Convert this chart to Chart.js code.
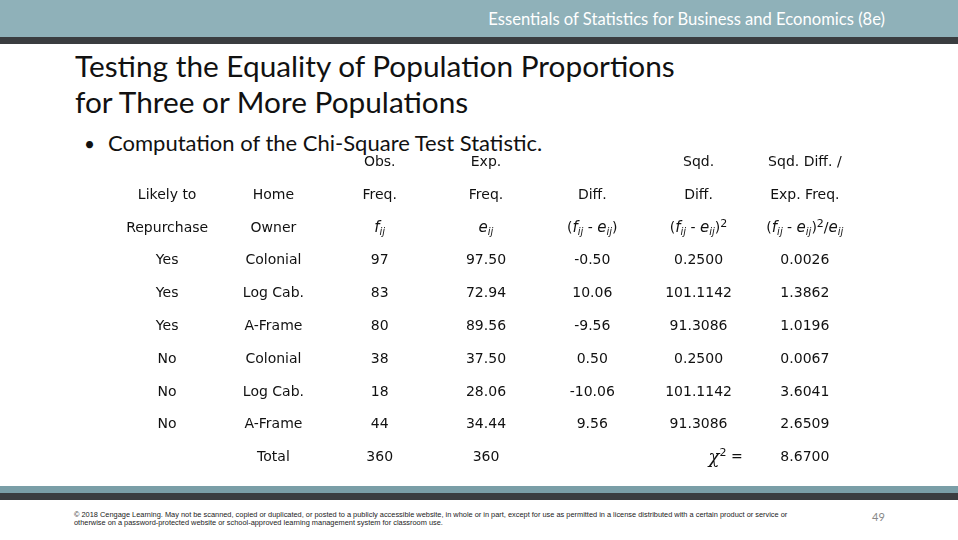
<!DOCTYPE html>
<html>
<head>
<meta charset="utf-8">
<script src="https://cdn.jsdelivr.net/npm/chart.js@4.4.0/dist/chart.umd.min.js"></script>
<style>
    body { margin: 0; width: 958px; height: 540px; background: #fff; overflow: hidden; position: relative; font-family: Lato, sans-serif; }
    .band-top { position: absolute; left: 0; top: 0; width: 958px; height: 37px; background: #8fb1b9; }
    .strip-top { position: absolute; left: 0; top: 37px; width: 958px; height: 7px; background: #3a3d40; }
    .band-bot { position: absolute; left: 0; top: 486px; width: 958px; height: 7px; background: #7a9ea7; }
    .strip-bot { position: absolute; left: 0; top: 493px; width: 958px; height: 7px; background: #3a3d40; }
    .book { position: absolute; right: 73px; top: 9px; color: #fff; font-size: 16.6px; }
    .title { position: absolute; left: 75px; top: 48px; font-size: 29.8px; line-height: 36px; color: #111; }
    .bullet { position: absolute; left: 84px; top: 129px; font-size: 22px; color: #111; }
    .bullet span { display: inline-block; width: 24px; font-size: 19px; }
    .copy { position: absolute; left: 74px; top: 511px; font-size: 7.4px; line-height: 8px; color: #222; font-family: "Liberation Sans Narrow", "Liberation Sans", sans-serif; }
    .page { position: absolute; left: 872px; top: 510px; font-size: 11px; color: #888; }
    #wrap { position: absolute; left: 114px; top: 146px; width: 744px; height: 328px; }
</style>
</head>
<body>
<div class="band-top"></div>
<div class="strip-top"></div>
<div class="book">Essentials of Statistics for Business and Economics (8e)</div>
<div class="title">Testing the Equality of Population Proportions<br>for Three or More Populations</div>
<div class="bullet"><span>•</span>Computation of the Chi-Square Test Statistic.</div>
<div id="wrap"><canvas id="table"></canvas></div>
<div class="band-bot"></div>
<div class="strip-bot"></div>
<div class="copy">© 2018 Cengage Learning. May not be scanned, copied or duplicated, or posted to a publicly accessible website, in whole or in part, except for use as permitted in a license distributed with a certain product or service or<br>otherwise on a password-protected website or school-approved learning management system for classroom use.</div>
<div class="page">49</div>
<script>
// table data
const likely = ['Yes', 'Yes', 'Yes', 'No', 'No', 'No'];
const home = ['Colonial', 'Log Cab.', 'A-Frame', 'Colonial', 'Log Cab.', 'A-Frame'];
const obsFreq = [97, 83, 80, 38, 18, 44];
const expFreq = [97.50, 72.94, 89.56, 37.50, 28.06, 34.44];
const diff = [-0.50, 10.06, -9.56, 0.50, -10.06, 9.56];
const sqdDiff = [0.2500, 101.1142, 91.3086, 0.2500, 101.1142, 91.3086];
const ratio = [0.0026, 1.3862, 1.0196, 0.0067, 3.6041, 2.6509];
const totalObs = 360;
const totalExp = 360;
const chiSquare = 8.6700;

const headRow1 = ['', '', 'Obs.', 'Exp.', '', 'Sqd.', 'Sqd. Diff. /'];
const headRow2 = ['Likely to', 'Home', 'Freq.', 'Freq.', 'Diff.', 'Diff.', 'Exp. Freq.'];

// rich text pieces: [text, style]  style: n = normal, i = italic, s = italic subscript, p = superscript
const fij = [['f', 'i'], ['ij', 's']];
const eij = [['e', 'i'], ['ij', 's']];
const headRow3 = [
    [['Repurchase', 'n']],
    [['Owner', 'n']],
    fij,
    eij,
    [['(', 'n']].concat(fij, [[' - ', 'n']], eij, [[')', 'n']]),
    [['(', 'n']].concat(fij, [[' - ', 'n']], eij, [[')', 'n'], ['2', 'p']]),
    [['(', 'n']].concat(fij, [[' - ', 'n']], eij, [[')', 'n'], ['2', 'p'], ['/', 'n']], eij)
];

const plain = t => [[String(t), 'n']];

// one dataset per column of body cells, rows 3..8
const columns = [
    likely,
    home,
    obsFreq.map(String),
    expFreq.map(v => v.toFixed(2)),
    diff.map(v => v.toFixed(2)),
    sqdDiff.map(v => v.toFixed(4)),
    ratio.map(v => v.toFixed(4))
];

const datasets = [];
columns.forEach(function(col, c) {
    datasets.push({
        texts: col.map(plain),
        data: col.map((_, r) => ({ x: c, y: r + 3 }))
    });
});

// header rows
[headRow1, headRow2].forEach(function(row, r) {
    datasets.push({
        texts: row.map(plain),
        data: row.map((_, c) => ({ x: c, y: r }))
    });
});
datasets.push({
    texts: headRow3,
    data: headRow3.map((_, c) => ({ x: c, y: 2 }))
});

// total row
datasets.push({
    texts: [plain('Total'), plain(totalObs), plain(totalExp), plain(chiSquare.toFixed(4))],
    data: [{ x: 1, y: 9 }, { x: 2, y: 9 }, { x: 3, y: 9 }, { x: 6, y: 9 }]
});
datasets.push({
    align: 'left',
    texts: [[['χ', 'chi'], ['2', 'p'], [' =', 'n']]],
    data: [{ x: 5, y: 9 }]
});

const fonts = {
    n: '14px "DejaVu Sans"',
    i: 'italic 15px "DejaVu Sans"',
    s: 'italic 10px "DejaVu Sans"',
    p: '11px "DejaVu Sans"',
    chi: 'italic 18px "DejaVu Serif"'
};
const shifts = { n: 0, i: 0, s: 4, p: -4, chi: 1 };

function drawRich(ctx, segs, x, y, align) {
    let w = 0;
    segs.forEach(function(s) {
        ctx.font = fonts[s[1]];
        w += ctx.measureText(s[0]).width;
    });
    let cx = align === 'left' ? x + 10 : x - w / 2;
    segs.forEach(function(s) {
        ctx.font = fonts[s[1]];
        ctx.fillText(s[0], cx, y + shifts[s[1]]);
        cx += ctx.measureText(s[0]).width;
    });
}

const cellText = {
    id: 'cellText',
    afterDatasetsDraw(chart) {
        const ctx = chart.ctx;
        ctx.save();
        ctx.fillStyle = '#111';
        ctx.textBaseline = 'middle';
        ctx.textAlign = 'left';
        chart.data.datasets.forEach(function(ds, i) {
            const meta = chart.getDatasetMeta(i);
            meta.data.forEach(function(el, j) {
                drawRich(ctx, ds.texts[j], el.x, el.y, ds.align);
            });
        });
        ctx.restore();
    }
};

new Chart(document.getElementById('table'), {
    type: 'scatter',
    data: { datasets: datasets },
    options: {
        responsive: true,
        maintainAspectRatio: false,
        animation: false,
        layout: { padding: 0 },
        elements: { point: { radius: 0, hoverRadius: 0 } },
        plugins: { legend: { display: false }, tooltip: { enabled: false } },
        scales: {
            x: { type: 'linear', min: -0.5, max: 6.5, display: false },
            y: { type: 'linear', min: -0.5, max: 9.5, reverse: true, display: false }
        }
    },
    plugins: [cellText]
});
</script>
</body>
</html>
